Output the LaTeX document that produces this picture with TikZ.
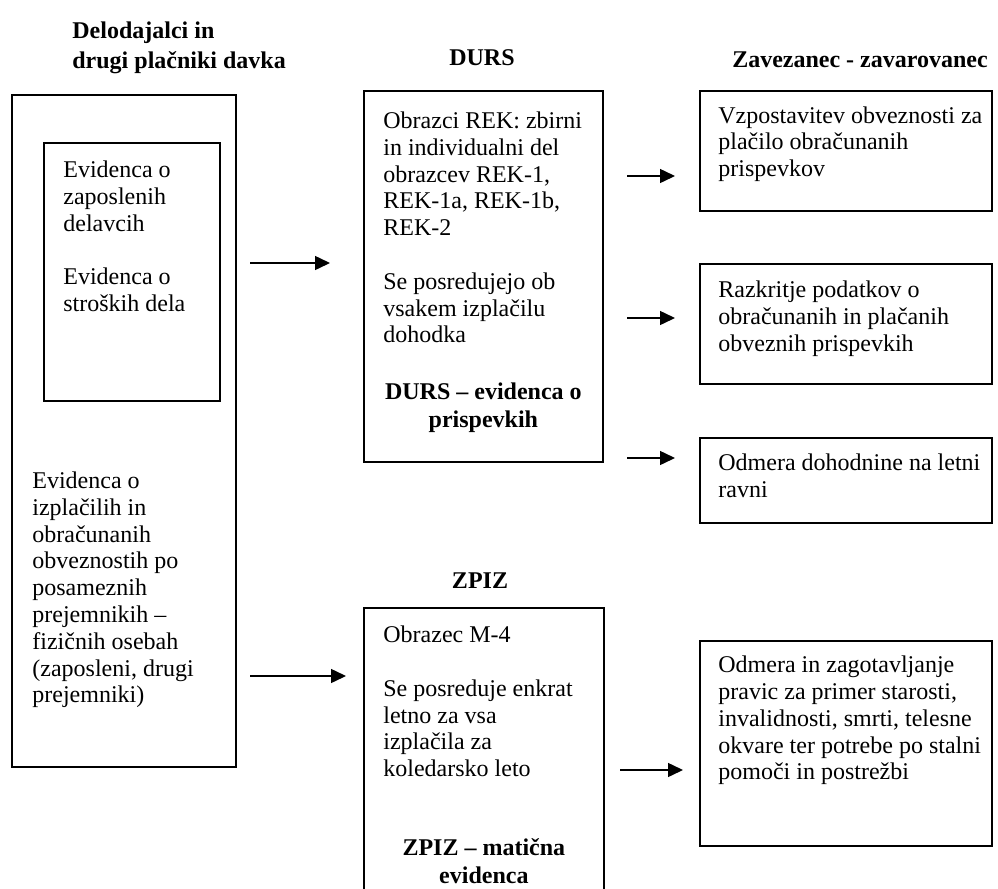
\documentclass[tikz,border=0pt]{standalone}
\usepackage{fontspec}
\setmainfont{Liberation Serif}
\usetikzlibrary{positioning}
\usetikzlibrary{arrows.meta}
\tikzstyle{framebox} = [draw=black, line width=0.9pt, rectangle, inner sep=0pt, anchor=north west]
\tikzstyle{boxtext} = [align=left, inner sep=0pt, font=\fontsize{12}{13.4}\selectfont]
\tikzstyle{boldnote} = [align=center, inner sep=0pt, font=\fontsize{12}{13.8}\selectfont\bfseries]
\tikzstyle{headtitle} = [align=left, inner sep=0pt, font=\fontsize{12}{15}\selectfont\bfseries]
\tikzstyle{flowarrow} = [line width=0.75pt, -{Triangle[length=7.5pt,width=7pt]}]

\begin{document}
\begin{tikzpicture}[x=0.5pt, y=-0.5pt]
    \useasboundingbox (0,0) rectangle (998,889);
    % headings
    \node[headtitle, anchor=north west] (delhead) at (72,21.5) {Delodajalci in\\drugi plačniki davka};
    \node[headtitle, anchor=base] (durshead) at (482,65) {DURS};
    \node[headtitle, anchor=base] (zavhead) at (860,67) {Zavezanec - zavarovanec};
    \node[headtitle, anchor=base] (zpizhead) at (480,588) {ZPIZ};

    % left column
    \node[framebox, minimum width=112pt, minimum height=336pt] (delbox) at (11,94) {};
    \node[framebox, minimum width=88pt, minimum height=129pt] (evbox) at (43,142) {};
    \node[boxtext, below right=9.25pt and 10pt of evbox.north west] (evtext)
        {Evidenca o\\zaposlenih\\delavcih\\[13.4pt]Evidenca o\\stroških dela};
    \node[boxtext, below right=188.75pt and 10.5pt of delbox.north west] (izptext)
        {Evidenca o\\izplačilih in\\obračunanih\\obveznostih po\\posameznih\\prejemnikih –\\fizičnih osebah\\(zaposleni, drugi\\prejemniki)};

    % DURS
    \node[framebox, minimum width=119.5pt, minimum height=185.5pt] (durs) at (363,90) {};
    \node[boxtext, below right=10.75pt and 10pt of durs.north west] (durstext)
        {Obrazci REK: zbirni\\in individualni del\\obrazcev REK-1,\\REK-1a, REK-1b,\\REK-2\\[13.4pt]Se posredujejo ob\\vsakem izplačilu\\dohodka};
    \node[boldnote, below=146.3pt of durs.north] (dursnote) {DURS – evidenca o\\prispevkih};

    % ZPIZ
    \node[framebox, minimum width=120pt, minimum height=150pt] (zpiz) at (363,607) {};
    \node[boxtext, below right=9.3pt and 10pt of zpiz.north west] (zpiztext)
        {Obrazec M-4\\[13.4pt]Se posreduje enkrat\\letno za vsa\\izplačila za\\koledarsko leto};
    \node[boldnote, below=115.8pt of zpiz.north] (zpiznote) {ZPIZ – matična\\evidenca};

    % right column
    \node[framebox, minimum width=146pt, minimum height=60pt] (obvbox) at (699,90) {};
    \node[boxtext, below right=8pt and 9.5pt of obvbox.north west] (obvtext)
        {Vzpostavitev obveznosti za\\plačilo obračunanih\\prispevkov};
    \node[framebox, minimum width=146pt, minimum height=60pt] (razbox) at (699,263) {};
    \node[boxtext, below right=8.8pt and 9.5pt of razbox.north west] (raztext)
        {Razkritje podatkov o\\obračunanih in plačanih\\obveznih prispevkih};
    \node[framebox, minimum width=146pt, minimum height=42.5pt] (dohbox) at (699,437) {};
    \node[boxtext, below right=8.3pt and 9.5pt of dohbox.north west] (dohtext)
        {Odmera dohodnine na letni\\ravni};
    \node[framebox, minimum width=146pt, minimum height=102.5pt] (pravbox) at (699,640) {};
    \node[boxtext, below right=7.8pt and 9.5pt of pravbox.north west] (pravtext)
        {Odmera in zagotavljanje\\pravic za primer starosti,\\invalidnosti, smrti, telesne\\okvare ter potrebe po stalni\\pomoči in postrežbi};

    % arrows
    \coordinate (deldurs-a) at (250,263);
    \coordinate (deldurs-b) at (330,263);
    \coordinate (delzpiz-a) at (250,676);
    \coordinate (delzpiz-b) at (346,676);
    \coordinate (obv-a) at (627,176);
    \coordinate (obv-b) at (675,176);
    \coordinate (raz-a) at (627,318);
    \coordinate (raz-b) at (675,318);
    \coordinate (doh-a) at (627,458);
    \coordinate (doh-b) at (675,458);
    \coordinate (prav-a) at (620,770);
    \coordinate (prav-b) at (683,770);
    \draw[flowarrow] (deldurs-a) -- (deldurs-b);
    \draw[flowarrow] (delzpiz-a) -- (delzpiz-b);
    \draw[flowarrow] (obv-a) -- (obv-b);
    \draw[flowarrow] (raz-a) -- (raz-b);
    \draw[flowarrow] (doh-a) -- (doh-b);
    \draw[flowarrow] (prav-a) -- (prav-b);
\end{tikzpicture}
\end{document}
